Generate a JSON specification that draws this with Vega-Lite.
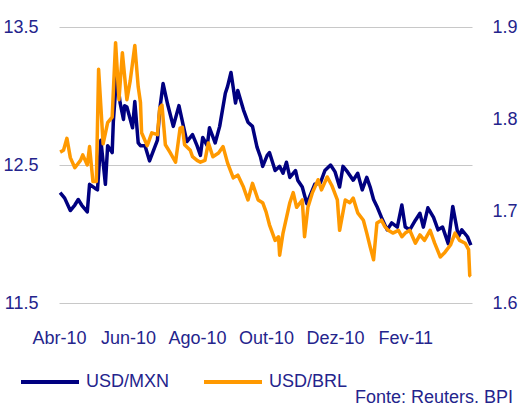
{
  "$schema": "https://vega.github.io/schema/vega-lite/v6.json",
  "width": 413,
  "height": 276,
  "autosize": {"type": "none"},
  "padding": {"left": 59, "top": 27, "right": 49, "bottom": 104},
  "background": "white",
  "config": {
    "view": {"stroke": null},
    "font": "Liberation Sans",
    "axis": {"labelFont": "Liberation Sans", "labelFontSize": 18, "labelColor": "#24248c", "ticks": false, "domain": false, "title": null}
  },
  "title": {"text": "Fonte: Reuters. BPI", "orient": "bottom", "anchor": "end", "font": "Liberation Sans", "fontSize": 18, "fontWeight": "normal", "color": "#24248c", "dx": -4, "dy": -27, "offset": 25},
  "datasets": {
    "mxn": [
      {"date": "2010-04-02", "value": 12.30}, {"date": "2010-04-06", "value": 12.26}, {"date": "2010-04-11", "value": 12.17},
      {"date": "2010-04-15", "value": 12.21}, {"date": "2010-04-18", "value": 12.25}, {"date": "2010-04-21", "value": 12.21},
      {"date": "2010-04-26", "value": 12.16}, {"date": "2010-04-28", "value": 12.36}, {"date": "2010-05-03", "value": 12.33},
      {"date": "2010-05-05", "value": 12.32}, {"date": "2010-05-08", "value": 12.68}, {"date": "2010-05-12", "value": 12.36},
      {"date": "2010-05-14", "value": 12.64}, {"date": "2010-05-18", "value": 12.59}, {"date": "2010-05-19", "value": 12.81},
      {"date": "2010-05-22", "value": 13.16}, {"date": "2010-05-25", "value": 12.95}, {"date": "2010-05-28", "value": 12.83},
      {"date": "2010-05-29", "value": 12.93}, {"date": "2010-05-31", "value": 12.92}, {"date": "2010-06-05", "value": 12.77},
      {"date": "2010-06-07", "value": 12.96}, {"date": "2010-06-10", "value": 12.66}, {"date": "2010-06-12", "value": 12.64},
      {"date": "2010-06-16", "value": 12.64}, {"date": "2010-06-20", "value": 12.53}, {"date": "2010-06-27", "value": 12.68},
      {"date": "2010-06-29", "value": 12.90}, {"date": "2010-07-02", "value": 13.09}, {"date": "2010-07-06", "value": 12.94},
      {"date": "2010-07-11", "value": 12.78}, {"date": "2010-07-16", "value": 12.93}, {"date": "2010-07-20", "value": 12.78},
      {"date": "2010-07-23", "value": 12.67}, {"date": "2010-07-28", "value": 12.72}, {"date": "2010-08-01", "value": 12.64},
      {"date": "2010-08-04", "value": 12.57}, {"date": "2010-08-06", "value": 12.70}, {"date": "2010-08-10", "value": 12.64},
      {"date": "2010-08-12", "value": 12.77}, {"date": "2010-08-17", "value": 12.66}, {"date": "2010-08-21", "value": 12.78},
      {"date": "2010-08-26", "value": 13.02}, {"date": "2010-08-28", "value": 13.07}, {"date": "2010-08-31", "value": 13.17},
      {"date": "2010-09-04", "value": 12.95}, {"date": "2010-09-06", "value": 13.04}, {"date": "2010-09-11", "value": 12.90},
      {"date": "2010-09-15", "value": 12.81}, {"date": "2010-09-19", "value": 12.78}, {"date": "2010-09-23", "value": 12.63},
      {"date": "2010-09-26", "value": 12.56}, {"date": "2010-09-28", "value": 12.49}, {"date": "2010-10-02", "value": 12.57},
      {"date": "2010-10-04", "value": 12.59}, {"date": "2010-10-09", "value": 12.46}, {"date": "2010-10-13", "value": 12.49},
      {"date": "2010-10-16", "value": 12.44}, {"date": "2010-10-19", "value": 12.52}, {"date": "2010-10-22", "value": 12.41},
      {"date": "2010-10-27", "value": 12.46}, {"date": "2010-10-29", "value": 12.39}, {"date": "2010-11-02", "value": 12.34},
      {"date": "2010-11-06", "value": 12.22}, {"date": "2010-11-11", "value": 12.32}, {"date": "2010-11-13", "value": 12.36},
      {"date": "2010-11-18", "value": 12.37}, {"date": "2010-11-22", "value": 12.46}, {"date": "2010-11-27", "value": 12.50},
      {"date": "2010-12-01", "value": 12.45}, {"date": "2010-12-05", "value": 12.34}, {"date": "2010-12-08", "value": 12.49},
      {"date": "2010-12-12", "value": 12.45}, {"date": "2010-12-17", "value": 12.39}, {"date": "2010-12-21", "value": 12.44},
      {"date": "2010-12-25", "value": 12.32}, {"date": "2010-12-29", "value": 12.41}, {"date": "2011-01-01", "value": 12.34},
      {"date": "2011-01-04", "value": 12.25}, {"date": "2011-01-07", "value": 12.20}, {"date": "2011-01-11", "value": 12.12},
      {"date": "2011-01-16", "value": 12.03}, {"date": "2011-01-20", "value": 12.08}, {"date": "2011-01-25", "value": 12.05},
      {"date": "2011-01-29", "value": 12.21}, {"date": "2011-02-01", "value": 12.05}, {"date": "2011-02-05", "value": 12.03},
      {"date": "2011-02-10", "value": 12.10}, {"date": "2011-02-14", "value": 12.15}, {"date": "2011-02-17", "value": 12.05},
      {"date": "2011-02-21", "value": 12.19}, {"date": "2011-02-26", "value": 12.12}, {"date": "2011-03-02", "value": 12.03},
      {"date": "2011-03-06", "value": 12.05}, {"date": "2011-03-11", "value": 11.93}, {"date": "2011-03-15", "value": 12.20},
      {"date": "2011-03-20", "value": 11.98}, {"date": "2011-03-23", "value": 12.03}, {"date": "2011-03-28", "value": 11.98},
      {"date": "2011-03-31", "value": 11.92}
    ],
    "brl": [
      {"date": "2010-04-02", "value": 1.764}, {"date": "2010-04-05", "value": 1.766}, {"date": "2010-04-08", "value": 1.779},
      {"date": "2010-04-11", "value": 1.758}, {"date": "2010-04-15", "value": 1.747}, {"date": "2010-04-20", "value": 1.755},
      {"date": "2010-04-22", "value": 1.761}, {"date": "2010-04-26", "value": 1.750}, {"date": "2010-04-28", "value": 1.770},
      {"date": "2010-05-01", "value": 1.732}, {"date": "2010-05-04", "value": 1.732}, {"date": "2010-05-06", "value": 1.854},
      {"date": "2010-05-10", "value": 1.773}, {"date": "2010-05-14", "value": 1.796}, {"date": "2010-05-18", "value": 1.802},
      {"date": "2010-05-21", "value": 1.883}, {"date": "2010-05-24", "value": 1.821}, {"date": "2010-05-27", "value": 1.872},
      {"date": "2010-05-31", "value": 1.821}, {"date": "2010-06-03", "value": 1.842}, {"date": "2010-06-07", "value": 1.880},
      {"date": "2010-06-10", "value": 1.835}, {"date": "2010-06-12", "value": 1.818}, {"date": "2010-06-13", "value": 1.785},
      {"date": "2010-06-18", "value": 1.771}, {"date": "2010-06-22", "value": 1.785}, {"date": "2010-06-27", "value": 1.783},
      {"date": "2010-06-29", "value": 1.812}, {"date": "2010-07-01", "value": 1.815}, {"date": "2010-07-04", "value": 1.772},
      {"date": "2010-07-08", "value": 1.764}, {"date": "2010-07-13", "value": 1.753}, {"date": "2010-07-17", "value": 1.790},
      {"date": "2010-07-19", "value": 1.791}, {"date": "2010-07-21", "value": 1.772}, {"date": "2010-07-26", "value": 1.766},
      {"date": "2010-07-28", "value": 1.759}, {"date": "2010-08-01", "value": 1.755}, {"date": "2010-08-04", "value": 1.753},
      {"date": "2010-08-08", "value": 1.755}, {"date": "2010-08-11", "value": 1.774}, {"date": "2010-08-15", "value": 1.759},
      {"date": "2010-08-20", "value": 1.763}, {"date": "2010-08-24", "value": 1.770}, {"date": "2010-08-28", "value": 1.752},
      {"date": "2010-09-02", "value": 1.736}, {"date": "2010-09-06", "value": 1.739}, {"date": "2010-09-11", "value": 1.726},
      {"date": "2010-09-15", "value": 1.712}, {"date": "2010-09-19", "value": 1.730}, {"date": "2010-09-24", "value": 1.712},
      {"date": "2010-09-28", "value": 1.709}, {"date": "2010-10-01", "value": 1.699}, {"date": "2010-10-04", "value": 1.685},
      {"date": "2010-10-09", "value": 1.668}, {"date": "2010-10-12", "value": 1.672}, {"date": "2010-10-13", "value": 1.652},
      {"date": "2010-10-16", "value": 1.676}, {"date": "2010-10-22", "value": 1.709}, {"date": "2010-10-25", "value": 1.720},
      {"date": "2010-10-28", "value": 1.704}, {"date": "2010-11-02", "value": 1.712}, {"date": "2010-11-04", "value": 1.672},
      {"date": "2010-11-07", "value": 1.704}, {"date": "2010-11-11", "value": 1.720}, {"date": "2010-11-16", "value": 1.734},
      {"date": "2010-11-19", "value": 1.723}, {"date": "2010-11-24", "value": 1.737}, {"date": "2010-11-28", "value": 1.728},
      {"date": "2010-12-03", "value": 1.712}, {"date": "2010-12-05", "value": 1.679}, {"date": "2010-12-10", "value": 1.712},
      {"date": "2010-12-14", "value": 1.709}, {"date": "2010-12-17", "value": 1.714}, {"date": "2010-12-21", "value": 1.698},
      {"date": "2010-12-26", "value": 1.690}, {"date": "2010-12-29", "value": 1.676}, {"date": "2011-01-01", "value": 1.661},
      {"date": "2011-01-04", "value": 1.647}, {"date": "2011-01-07", "value": 1.687}, {"date": "2011-01-11", "value": 1.690},
      {"date": "2011-01-14", "value": 1.683}, {"date": "2011-01-17", "value": 1.679}, {"date": "2011-01-21", "value": 1.676},
      {"date": "2011-01-26", "value": 1.679}, {"date": "2011-01-29", "value": 1.672}, {"date": "2011-02-01", "value": 1.676},
      {"date": "2011-02-05", "value": 1.679}, {"date": "2011-02-10", "value": 1.665}, {"date": "2011-02-14", "value": 1.674},
      {"date": "2011-02-18", "value": 1.668}, {"date": "2011-02-23", "value": 1.679}, {"date": "2011-02-27", "value": 1.665},
      {"date": "2011-03-04", "value": 1.650}, {"date": "2011-03-08", "value": 1.655}, {"date": "2011-03-13", "value": 1.663},
      {"date": "2011-03-17", "value": 1.676}, {"date": "2011-03-21", "value": 1.668}, {"date": "2011-03-26", "value": 1.665},
      {"date": "2011-03-29", "value": 1.658}, {"date": "2011-03-30", "value": 1.630}, {"date": "2011-03-31", "value": 1.629}
    ]
  },
  "layer": [
    {
      "data": {"name": "mxn"},
      "mark": {"type": "line", "strokeWidth": 3.5, "strokeJoin": "round"},
      "encoding": {
        "x": {
          "field": "date", "type": "temporal",
          "scale": {"type": "utc", "domain": [{"year": 2010, "month": "apr", "date": 1, "utc": true}, {"year": 2011, "month": "apr", "date": 1, "utc": true}]},
          "axis": {
            "grid": false, "labelPadding": 35, "labelBaseline": "middle", "labelOverlap": false, "labelFlush": false,
            "values": [
              {"year": 2010, "month": "apr", "date": 1, "utc": true}, {"year": 2010, "month": "jun", "date": 1, "utc": true},
              {"year": 2010, "month": "aug", "date": 1, "utc": true}, {"year": 2010, "month": "oct", "date": 1, "utc": true},
              {"year": 2010, "month": "dec", "date": 1, "utc": true}, {"year": 2011, "month": "feb", "date": 1, "utc": true}
            ],
            "labelExpr": "['Jan','Fev','Mar','Abr','Mai','Jun','Jul','Ago','Set','Out','Nov','Dez'][utcmonth(datum.value)] + '-' + utcFormat(datum.value, '%y')"
          }
        },
        "y": {
          "field": "value", "type": "quantitative",
          "scale": {"domain": [11.5, 13.5], "zero": false, "nice": false},
          "axis": {"orient": "left", "values": [11.5, 12.5, 13.5], "format": ".1f", "grid": true, "gridColor": "#c8c8c8", "gridWidth": 1, "labelPadding": 21}
        },
        "color": {
          "datum": "USD/MXN",
          "scale": {"domain": ["USD/MXN", "USD/BRL"], "range": ["#000080", "#FF9900"]},
          "legend": {
            "orient": "none", "legendX": -40, "legendY": 324, "direction": "horizontal", "title": null,
            "symbolType": "stroke", "symbolSize": 3364, "symbolStrokeWidth": 4,
            "labelFont": "Liberation Sans", "labelFontSize": 18, "labelColor": "#24248c", "labelOffset": 5, "columnPadding": 26
          }
        }
      }
    },
    {
      "data": {"name": "brl"},
      "mark": {"type": "line", "strokeWidth": 3.5, "strokeJoin": "round"},
      "encoding": {
        "x": {"field": "date", "type": "temporal"},
        "y": {
          "field": "value", "type": "quantitative",
          "scale": {"domain": [1.6, 1.9], "zero": false, "nice": false},
          "axis": {"orient": "right", "values": [1.6, 1.7, 1.8, 1.9], "format": ".1f", "grid": false, "labelPadding": 20}
        },
        "color": {"datum": "USD/BRL"}
      }
    }
  ],
  "resolve": {"scale": {"y": "independent"}}
}
